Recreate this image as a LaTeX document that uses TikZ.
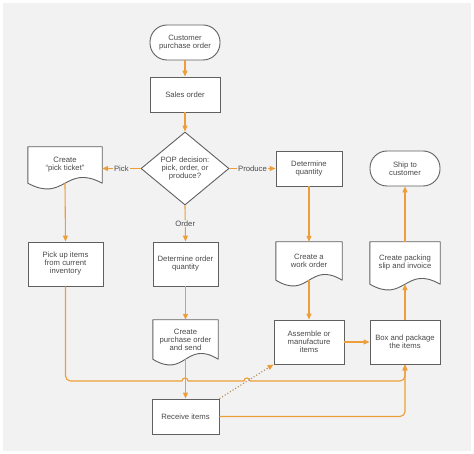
\documentclass[tikz,border=0pt]{standalone}
\usepackage{fontspec}
\setmainfont{Liberation Sans}
\usetikzlibrary{shapes.geometric,arrows.meta,calc,backgrounds}

\definecolor{bggray}{HTML}{F2F2F2}
\definecolor{lineorange}{HTML}{EE9E38}
\definecolor{boxgray}{HTML}{606060}
\definecolor{txtgray}{HTML}{4A4A4A}

\tikzset{
  every node/.style={font=\fontsize{7.7}{8}\selectfont, text=txtgray, align=center},
  proc/.style={draw=boxgray, line width=0.9pt, fill=white, inner sep=1pt},
  term/.style={proc, rounded corners=17pt},
  docnode/.style={inner sep=1pt},
  decide/.style={diamond, draw=boxgray, line width=0.9pt, fill=white, aspect=1.2,
    minimum width=88pt, minimum height=73pt, inner sep=0pt},
  flow/.style={draw=lineorange, line width=1.1pt, -{Triangle[length=6pt,width=5pt]}},
  lbl/.style={fill=bggray, inner sep=1pt},
}

% outline of a document shape round a named node
\newcommand{\docshape}[1]{%
  \begin{scope}[on background layer]
    \filldraw[draw=boxgray, line width=0.9pt, fill=white, line join=round]
      (#1.south west) -- (#1.north west) -- (#1.north east) -- (#1.south east)
      .. controls ($(#1.south west)!0.5!(#1.south east)+(0,-20)$)
      and ($(#1.south west)!0.5!(#1.south east)+(0,20)$) .. (#1.south west) -- cycle;
  \end{scope}}

\begin{document}
\begin{tikzpicture}[x=1pt,y=-1pt]

\begin{scope}[on background layer]
\fill[white](0,0) rectangle (474,454);
\fill[bggray](3,3) rectangle (471,451);
\end{scope}
\useasboundingbox (0,0) rectangle (474,454);

\node[term, minimum width=70pt, minimum height=35pt] (cpo) at (185,42.5) {Customer\\purchase order};
\node[proc, minimum width=70pt, minimum height=35pt] (so) at (185,94.5) {Sales order};
\node[decide] (pop) at (185,168.5) {POP decision:\\pick, order, or\\produce?};

\node[docnode, minimum width=74pt, minimum height=36pt] (tick) at (65,165) {Create\\``pick ticket''};
\docshape{tick}
\node[proc, minimum width=75pt, minimum height=44pt] (pickup) at (65.5,264) {Pick up items\\from current\\inventory};

\node[proc, minimum width=65pt, minimum height=44pt] (doq) at (185.5,264) {Determine order\\quantity};
\node[docnode, minimum width=65pt, minimum height=39pt] (po) at (185.5,339.5) {Create\\purchase order\\and send};
\docshape{po}
\node[proc, minimum width=67pt, minimum height=35pt] (recv) at (185.5,416.5) {Receive items};

\node[proc, minimum width=66pt, minimum height=35pt] (detq) at (309,168.5) {Determine\\quantity};
\node[docnode, minimum width=66pt, minimum height=38pt] (wo) at (309,261) {Create a\\work order};
\docshape{wo}
\node[proc, minimum width=70pt, minimum height=44pt] (asm) at (309,342) {Assemble or\\manufacture\\items};

\node[term, minimum width=70pt, minimum height=35pt] (ship) at (405,168.5) {Ship to\\customer};
\node[docnode, minimum width=70pt, minimum height=42pt] (slip) at (405,263) {Create packing\\slip and invoice};
\docshape{slip}
\node[proc, minimum width=70pt, minimum height=44pt] (box) at (405,342) {Box and package\\the items};

\draw[flow](cpo.south) -- (so.north);
\draw[flow](so.south) -- (pop.north);
\draw[flow](pop.west) -- node[lbl]{Pick} (pop.west -| tick.east);
\draw[flow](pop.east) -- node[lbl]{Produce} (detq.west);
\draw[flow](pop.south) -- node[lbl]{Order} (doq.north);

\draw[flow](tick.south) -- (pickup.north);
\draw[flow](doq.south) -- (po.north);
\draw[flow](po.south) -- (recv.north);
\draw[flow](detq.south) -- (wo.north);
\draw[flow](wo.south) -- (asm.north);
\draw[flow](asm.east) -- (box.west);
\draw[flow](box.north) -- (slip.south);
\draw[flow](slip.north) -- (ship.south);

\draw[flow, rounded corners=5pt](pickup.south) |- (175,381) [sharp corners] -- (182,381)
  .. controls (182,377) and (188,377) .. (188,381) -- (244,381)
  .. controls (244,377) and (250,377) .. (250,381) -- (260,381)
  [rounded corners=5pt] -| (box.south);
\draw[flow, rounded corners=5pt](recv.east) -| (box.south);
\draw[flow, draw=lineorange!45!gray, dotted, -{Triangle[length=6pt,width=5pt,color=lineorange]}]
  (recv.north east) -- (asm.south west);

\end{tikzpicture}
\end{document}
